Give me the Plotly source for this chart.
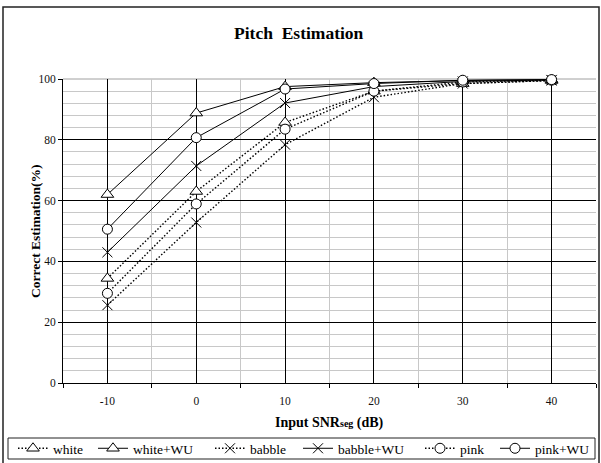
import plotly.graph_objects as go

# ---- data ----
snr = [-10, 0, 10, 20, 30, 40]
snr_labels = ["-10", "0", "10", "20", "30", "40"]

white = [34.4, 63.0, 85.7, 96.0, 98.5, 99.5]
white_wu = [62.0, 88.8, 97.5, 98.8, 99.5, 99.8]
babble = [25.6, 52.8, 78.4, 94.0, 98.5, 99.5]
babble_wu = [43.0, 71.4, 92.1, 97.5, 99.2, 99.7]
pink = [29.5, 58.9, 83.5, 96.0, 99.0, 99.6]
pink_wu = [50.6, 80.7, 96.7, 98.5, 99.6, 99.8]

y_ticks = [0, 20, 40, 60, 80, 100]

series = [
    ("white", white, "dot", "triangle-up", 35),
    ("white+WU", white_wu, "solid", "triangle-up", 72),
    ("babble", babble, "dot", "x-thin", 43),
    ("babble+WU", babble_wu, "solid", "x-thin", 77),
    ("pink", pink, "dot", "circle", 30),
    ("pink+WU", pink_wu, "solid", "circle", 50),
]

FONT = "Liberation Serif"

fig = go.Figure()
for name, vals, dash, sym, lw in series:
    if sym == "x-thin":
        marker = dict(symbol=sym, size=10, color="black",
                      line=dict(color="black", width=1))
    else:
        marker = dict(symbol=sym, size=10 if sym == "circle" else 11,
                      color="white", line=dict(color="black", width=1))
    fig.add_trace(go.Scatter(
        x=snr, y=vals, name=name, mode="lines+markers",
        line=dict(color="black", width=1.4 if dash == "dot" else 1,
                  dash="1.5px,2px" if dash == "dot" else "solid"),
        marker=marker, legendwidth=lw, cliponaxis=False,
    ))

W, H = 601, 463
L, R, T, B = 63, 5, 79, 80
PW, PH = W - L - R, H - T - B


def xp(px):
    return (px - L) / PW


def yp(py):
    return (H - B - py) / PH


fig.update_layout(
    width=W, height=H,
    margin=dict(l=L, r=R, t=T, b=B, autoexpand=False),
    paper_bgcolor="white", plot_bgcolor="white",
    font=dict(family=FONT, size=12, color="black"),
    title=dict(text="<b>Pitch  Estimation</b>", x=0.497, xref="container",
               xanchor="center", y=1 - 33 / H, yref="container",
               yanchor="middle", font=dict(size=17.5, family=FONT, color="black")),
    showlegend=True,
    legend=dict(orientation="h", x=xp(13), xanchor="left",
                y=yp(448.5), yanchor="middle",
                borderwidth=0,
                bgcolor="rgba(0,0,0,0)", font=dict(size=13.5, family=FONT),
                tracegroupgap=0),
    xaxis=dict(
        range=[-15, 45], tickvals=snr, ticktext=snr_labels,
        showline=True, linecolor="black", linewidth=1,
        ticks="", ticklabelstandoff=7,
        showgrid=True, gridcolor="black", gridwidth=1,
        zeroline=False, automargin=False,
        tickfont=dict(size=11.5, family=FONT, color="#111"),
        minor=dict(tick0=-15, dtick=10, ticks="outside", ticklen=4,
                   tickcolor="black", showgrid=True, gridcolor="#c8c8c8",
                   gridwidth=1),
    ),
    yaxis=dict(
        range=[0, 100], tickvals=y_ticks,
        showline=True, linecolor="black", linewidth=1,
        ticks="outside", ticklen=4, tickcolor="black",
        showgrid=True, gridcolor="black", gridwidth=1,
        zeroline=False, automargin=False,
        tickfont=dict(size=11.5, family=FONT, color="#111"),
        minor=dict(dtick=4, showgrid=True, gridcolor="#c8c8c8", gridwidth=1,
                   ticks=""),
    ),
    annotations=[
        dict(text="<b>Correct Estimation(%)</b>", textangle=-90,
             x=xp(35), y=0.5, xref="paper", yref="paper",
             xanchor="center", yanchor="middle", showarrow=False,
             font=dict(size=13.5, family=FONT, color="black")),
        dict(text="<b>Input SNR<span style='font-size:10px'>seg</span> (dB)</b>",
             x=0.5, y=yp(423), xref="paper", yref="paper",
             xanchor="center", yanchor="middle", showarrow=False,
             font=dict(size=14, family=FONT, color="black")),
    ],
    shapes=[
        # gray top border of plot area
        dict(type="line", xref="paper", yref="paper", x0=0, x1=1, y0=1, y1=1,
             line=dict(color="#a0a0a0", width=1), layer="between"),
        # outer chart border
        dict(type="rect", xref="paper", yref="paper",
             x0=xp(3), x1=xp(599), y0=yp(476), y1=yp(7),
             line=dict(color="#222", width=1.5), layer="above"),
        # legend box
        dict(type="rect", xref="paper", yref="paper",
             x0=xp(8), x1=xp(595), y0=yp(459), y1=yp(438),
             line=dict(color="#222", width=1), layer="above"),
    ],
)

fig.write_html(
    "out.html",
    config={"displayModeBar": False},
    post_script="document.body.style.margin='0';document.body.style.overflow='hidden';",
)
